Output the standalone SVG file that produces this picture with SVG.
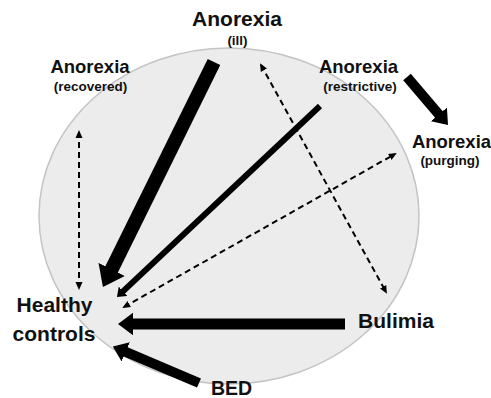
<svg xmlns="http://www.w3.org/2000/svg" width="491" height="398" viewBox="0 0 491 398">
  <style>
    .lbl { font-family: "Liberation Sans", Arial, sans-serif; font-weight: bold; fill: #111; text-anchor: middle; }
    .big { font-size: 21px; }
    .med { font-size: 18.5px; }
    .sub { font-size: 13.5px; }
    .solid { stroke: #000; fill: none; stroke-linecap: butt; marker-end: url(#head); }
    .dash { stroke: #000; fill: none; stroke-width: 2; stroke-dasharray: 6 4; marker-start: url(#dhead); marker-end: url(#dhead); }
  </style>
  <defs>
    <marker id="head" viewBox="0 0 1.4 2.1" refX="0.2" refY="1.05" markerWidth="1.4" markerHeight="2.1" markerUnits="strokeWidth" orient="auto">
      <path d="M0,0 L1.4,1.05 L0,2.1 z" fill="#000"/>
    </marker>
    <marker id="dhead" viewBox="0 0 8 8" refX="6" refY="4" markerWidth="8" markerHeight="8" markerUnits="userSpaceOnUse" orient="auto-start-reverse">
      <path d="M0,0.5 L8,4 L0,7.5 z" fill="#000"/>
    </marker>
  </defs>
  <rect width="491" height="398" fill="#fff"/>
  <ellipse id="circle" cx="229" cy="216" rx="190" ry="168" fill="#ececec" stroke="#c4c4c4" stroke-width="1.5"/>

  <g id="connectors">
    <line class="solid" x1="214" y1="62" x2="110.4" y2="271.9" stroke-width="14"/>
    <line class="solid" x1="320" y1="106" x2="122.2" y2="292.1" stroke-width="6"/>
    <line class="solid" x1="345" y1="324" x2="131.2" y2="324" stroke-width="11"/>
    <line class="solid" x1="199" y1="383" x2="123.9" y2="351.1" stroke-width="10"/>
    <line class="solid" x1="407" y1="77" x2="440.2" y2="115.9" stroke-width="10"/>
    <line class="dash" x1="79" y1="132" x2="79" y2="288"/>
    <line class="dash" x1="124" y1="307" x2="395" y2="154"/>
    <line class="dash" x1="261" y1="65" x2="386" y2="292"/>
  </g>

  <g id="anorexia-ill">
    <text class="lbl big" x="237" y="26">Anorexia</text>
    <text class="lbl sub" x="237.5" y="45">(ill)</text>
  </g>
  <g id="anorexia-recovered">
    <text class="lbl med" x="90" y="73">Anorexia</text>
    <text class="lbl sub" x="90.5" y="91">(recovered)</text>
  </g>
  <g id="anorexia-restrictive">
    <text class="lbl med" x="358.5" y="73">Anorexia</text>
    <text class="lbl sub" x="360" y="91">(restrictive)</text>
  </g>
  <g id="anorexia-purging">
    <text class="lbl med" x="451.5" y="148">Anorexia</text>
    <text class="lbl sub" x="450" y="165">(purging)</text>
  </g>
  <g id="healthy-controls">
    <text class="lbl big" x="54.5" y="312">Healthy</text>
    <text class="lbl big" x="54" y="341">controls</text>
  </g>
  <g id="bulimia">
    <text class="lbl big" x="396" y="328">Bulimia</text>
  </g>
  <g id="bed">
    <text class="lbl" style="font-size:19.5px" x="231.5" y="395">BED</text>
  </g>
</svg>
